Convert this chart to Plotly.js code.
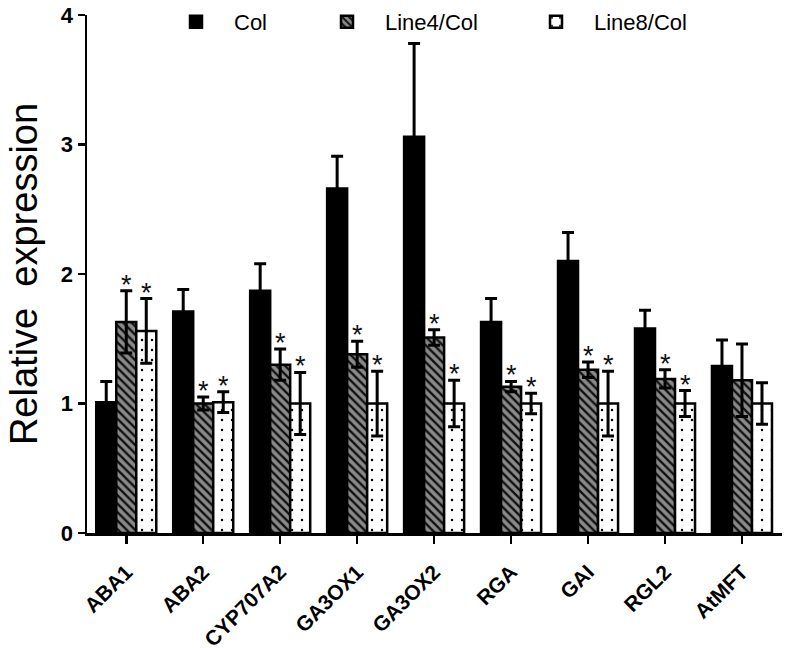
<!DOCTYPE html>
<html>
<head>
<meta charset="utf-8">
<script src="https://cdn.plot.ly/plotly-3.0.1.min.js"></script>
<style>html,body{margin:0;padding:0;background:#fff;}#chart{width:793px;height:648px;}</style>
</head>
<body>
<div id="chart"></div>
<script>
const genes = ["ABA1","ABA2","CYP707A2","GA3OX1","GA3OX2","RGA","GAI","RGL2","AtMFT"];
const seriesNames = ["Col","Line4/Col","Line8/Col"];
const colMean   = [1.01, 1.71, 1.87, 2.66, 3.06, 1.63, 2.10, 1.58, 1.29];
const colErr    = [0.16, 0.17, 0.21, 0.25, 0.72, 0.18, 0.22, 0.14, 0.20];
const line4Mean = [1.63, 1.00, 1.30, 1.38, 1.51, 1.13, 1.26, 1.19, 1.18];
const line4Err  = [0.24, 0.05, 0.12, 0.10, 0.06, 0.04, 0.06, 0.07, 0.28];
const line8Mean = [1.56, 1.01, 1.00, 1.00, 1.00, 1.00, 1.00, 1.00, 1.00];
const line8Err  = [0.25, 0.08, 0.24, 0.25, 0.18, 0.08, 0.25, 0.10, 0.16];
const line4Sig  = [true,true,true,true,true,true,true,true,false];
const line8Sig  = [true,true,true,true,true,true,true,true,false];

const idx = genes.map((g,i)=>i);
const bargap = 0.22;
const bw = (1-bargap)/3;
const FONT = 'Arial, Liberation Sans, sans-serif';

function errObj(arr){return {type:'data',array:arr,visible:true,color:'#000',thickness:3,width:6};}
const outline = {color:'#000', width:2.5};

const traces = [
  {type:'bar', name:seriesNames[0], legend:'legend', x:idx, y:colMean, error_y:errObj(colErr),
   marker:{color:'#000', line:outline}},
  {type:'bar', name:seriesNames[1], legend:'legend2', x:idx, y:line4Mean, error_y:errObj(line4Err),
   marker:{color:'#7a7a7a', line:outline, pattern:{shape:'\\', fgcolor:'#111', bgcolor:'#8a8a8a', size:6, solidity:0.4}}},
  {type:'bar', name:seriesNames[2], legend:'legend3', x:idx, y:line8Mean, error_y:errObj(line8Err),
   marker:{color:'#fff', line:outline, pattern:{shape:'.', fgcolor:'#000', bgcolor:'#fff', size:10, solidity:0.05}}}
];

const annotations = [];
const starFont = {family:FONT, size:27, color:'#111'};
idx.forEach(i=>{
  if(line4Sig[i]) annotations.push({x:i, y:line4Mean[i]+line4Err[i], xref:'x', yref:'y', text:'*', showarrow:false, yanchor:'bottom', yshift:-11, font:starFont});
  if(line8Sig[i]) annotations.push({x:i+bw, y:line8Mean[i]+line8Err[i], xref:'x', yref:'y', text:'*', showarrow:false, yanchor:'bottom', yshift:-11, font:starFont});
});

function leg(px){
  return {orientation:'h', xref:'container', yref:'container', x:px/793, xanchor:'left', y:1-22/648, yanchor:'middle',
          font:{family:FONT, size:22, color:'#000'}, bgcolor:'rgba(0,0,0,0)', itemwidth:66};
}

const layout = {
  width:793, height:648,
  margin:{l:87, r:11, t:15, b:115, autoexpand:false},
  paper_bgcolor:'#fff', plot_bgcolor:'#fff',
  barmode:'group', bargap:bargap, bargroupgap:0,
  font:{family:FONT, color:'#000'},
  showlegend:true,
  legend:leg(158),
  legend2:leg(309),
  legend3:leg(518),
  xaxis:{range:[-0.51, 8.52], tickvals:idx, ticktext:genes, tickangle:-45, ticks:'outside', ticklen:8, tickwidth:2.5, tickcolor:'#000',
         ticklabelstandoff:8,
         showline:true, linecolor:'#000', linewidth:2.5, showgrid:false, zeroline:false,
         tickfont:{family:FONT, size:21, weight:'bold', color:'#000'}},
  yaxis:{range:[0,4], tickvals:[0,1,2,3,4], ticks:'outside', ticklen:7, tickwidth:2.5, tickcolor:'#000',
         showline:true, linecolor:'#000', linewidth:2.5, showgrid:false, zeroline:false,
         tickfont:{family:FONT, size:22, weight:'bold', color:'#000'},
         title:{text:'Relative  expression', font:{family:FONT, size:38, color:'#000'}, standoff:12}},
  annotations:annotations
};

Plotly.newPlot('chart', traces, layout, {displayModeBar:false, staticPlot:true});
</script>
</body>
</html>
